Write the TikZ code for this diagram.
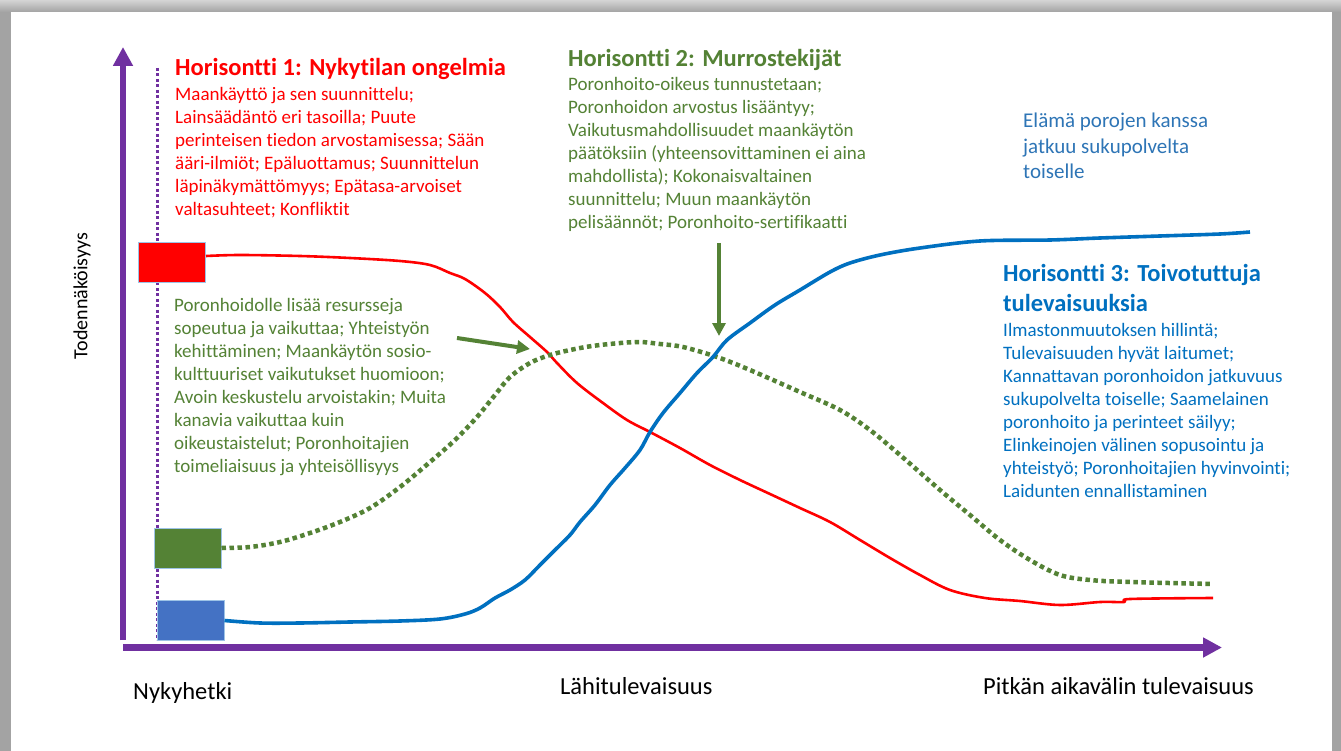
\documentclass[tikz,border=0pt]{standalone}
\usepackage{fontspec}
\setmainfont{Carlito}[Ligatures={NoCommon}]
\usetikzlibrary{arrows.meta,calc}
\definecolor{hred}{HTML}{FF0000}
\definecolor{hgreen}{HTML}{548235}
\definecolor{hblue}{HTML}{0070C0}
\definecolor{lblue}{HTML}{2E75B6}
\definecolor{hpurple}{HTML}{7030A0}
\definecolor{boxblue}{HTML}{4472C4}
\definecolor{edgeblue}{HTML}{9DC3E6}
\definecolor{framegray}{HTML}{A3A3A3}
\definecolor{framelight}{HTML}{D4D4D4}
\begin{document}
\begin{tikzpicture}[x=1pt,y=-1pt,
  txt/.style={anchor=base west, inner sep=0pt, align=left},
  htitle/.style={txt, font=\fontsize{24.5}{29.5}\selectfont\bfseries},
  hbody/.style={txt, font=\fontsize{19}{23}\selectfont},
  axlabel/.style={anchor=base west, inner sep=0pt, font=\fontsize{24.5}{29}\selectfont},
  levelbox/.style={draw=edgeblue, line width=1pt, inner sep=0pt, minimum width=67pt, minimum height=40pt},
  axisline/.style={draw=hpurple, line width=6.5pt, -{Triangle[length=19pt,width=19pt]}},
  pointer/.style={draw=hgreen, line width=4pt, -{Triangle[length=13pt,width=13pt]}},
  redcurve/.style={draw=hred, line width=2.6pt, line join=round},
  bluecurve/.style={draw=hblue, line width=3.6pt, line join=round},
  greencurve/.style={draw=hgreen, line width=4.5pt, dash pattern=on 4.5pt off 3.5pt},
  nowline/.style={draw=hpurple, line width=3pt, dash pattern=on 3pt off 2.5pt}
]
% frame
\fill[framegray] (0,0) rectangle (1341,751);
\shade[top color=framelight, bottom color=framegray] (0,0) rectangle (1341,12);
\fill[white] (11,12) rectangle (1332,751);
\useasboundingbox (0,0) rectangle (1341,751);

% axes
\coordinate (yorig) at (123,640);
\coordinate (ytip) at (123,47);
\coordinate (xorig) at (123,647.5);
\coordinate (xtip) at (1222,647.5);
\draw[axisline] (yorig) -- (ytip);
\draw[axisline] (xorig) -- (xtip);

% present-time dotted line
\coordinate (nowtop) at (157,68);
\coordinate (nowbot) at (157,640);
\draw[nowline] (nowtop) -- (nowbot);

% level boxes
\node[levelbox, fill=hred] (rbox) at (172,263) {};
\node[levelbox, fill=hgreen] (gbox) at (187.5,548) {};
\node[levelbox, fill=boxblue] (bbox) at (190.5,620.5) {};

% curves
\coordinate (rstart) at ($(rbox.east)+(0,-7)$);
\draw[redcurve] plot[smooth, tension=0.55] coordinates {(rstart) (240,255) (300,256) (350,258) (400,261) (430,265) (450,273) (465,279) (485,293) (500,307) (513,322) (530,337) (547,352) (557,363) (577,383) (603,403) (627,420) (650,432) (680,448) (710,465) (740,480) (770,494) (800,508) (830,522) (860,540) (890,558) (920,575) (950,590) (985,598) (1020,601) (1060,605) (1100,602) (1124,602) (1130,599) (1213,598)};

\draw[greencurve] plot[smooth, tension=0.55] coordinates {(gbox.east) (250,547) (280,542) (310,533) (340,522) (370,508) (400,487) (430,462) (455,440) (477,417) (495,395) (510,377) (530,363) (550,355) (575,349) (600,345) (637,342) (660,344) (683,347) (717,357) (750,370) (800,392) (840,410) (870,430) (900,455) (940,490) (970,515) (1000,540) (1030,560) (1060,575) (1090,580) (1130,582) (1213,584)};

\draw[bluecurve] plot[smooth, tension=0.55] coordinates {(bbox.east) (260,623) (300,623) (350,622) (400,621) (440,619) (465,614) (480,608) (495,598) (510,590) (525,580) (540,565) (555,550) (570,535) (580,522) (595,505) (610,485) (625,468) (640,450) (650,432) (663,413) (680,393) (697,373) (713,357) (727,340) (750,323) (775,305) (800,290) (830,272) (850,263) (880,255) (920,248) (980,241) (1050,240) (1100,238) (1160,236) (1220,234) (1250,232)};

% pointers
\coordinate (p1s) at (457,338);
\coordinate (p1e) at (530,349);
\draw[pointer] (p1s) -- (p1e);
\coordinate (p2s) at (719,243);
\coordinate (p2e) at (719,336);
\draw[pointer] (p2s) -- (p2e);

% Horizon 1 (multi-line nodes are placed at the baseline of their last line)
\node[htitle, text=hred] (h1t) at (175,76) {Horisontti 1: Nykytilan ongelmia};
\node[hbody, text=hred] (h1b) at (175,216) {Maankäyttö ja sen suunnittelu;\\Lainsäädäntö eri tasoilla; Puute\\perinteisen tiedon arvostamisessa; Sään\\ääri-ilmiöt; Epäluottamus; Suunnittelun\\läpinäkymättömyys; Epätasa-arvoiset\\valtasuhteet; Konfliktit};

% Horizon 2
\node[htitle, text=hgreen] (h2t) at (568,67) {Horisontti 2: Murrostekijät};
\node[hbody, text=hgreen] (h2b) at (568,229) {Poronhoito-oikeus tunnustetaan;\\Poronhoidon arvostus lisääntyy;\\Vaikutusmahdollisuudet maankäytön\\päätöksiin (yhteensovittaminen ei aina\\mahdollista); Kokonaisvaltainen\\suunnittelu; Muun maankäytön\\pelisäännöt; Poronhoito-sertifikaatti};

% left green text
\node[hbody, text=hgreen] (g1b) at (174,472.7) {Poronhoidolle lisää resursseja\\sopeutua ja vaikuttaa; Yhteistyön\\kehittäminen; Maankäytön sosio-\\kulttuuriset vaikutukset huomioon;\\Avoin keskustelu arvoistakin; Muita\\kanavia vaikuttaa kuin\\oikeustaistelut; Poronhoitajien\\toimeliaisuus ja yhteisöllisyys};

% vision
\node[txt, text=lblue, font=\fontsize{21}{25.6}\selectfont] (vis) at (1023,179) {Elämä porojen kanssa\\jatkuu sukupolvelta\\toiselle};

% Horizon 3
\node[htitle, text=hblue] (h3t) at (1003,311.5) {Horisontti 3: Toivotuttuja\\tulevaisuuksia};
\node[hbody, text=hblue] (h3b) at (1003,497) {Ilmastonmuutoksen hillintä;\\Tulevaisuuden hyvät laitumet;\\Kannattavan poronhoidon jatkuvuus\\sukupolvelta toiselle; Saamelainen\\poronhoito ja perinteet säilyy;\\Elinkeinojen välinen sopusointu ja\\yhteistyö; Poronhoitajien hyvinvointi;\\Laidunten ennallistaminen};

% axis labels
\node[inner sep=0pt, rotate=90, font=\fontsize{20}{24}\selectfont] (ylab) at (82,296) {Todennäköisyys};
\node[axlabel] (now) at (133,699) {Nykyhetki};
\node[axlabel] (near) at (560,694) {Lähitulevaisuus};
\node[axlabel] (far) at (983,694) {Pitkän aikavälin tulevaisuus};
\end{tikzpicture}
\end{document}
